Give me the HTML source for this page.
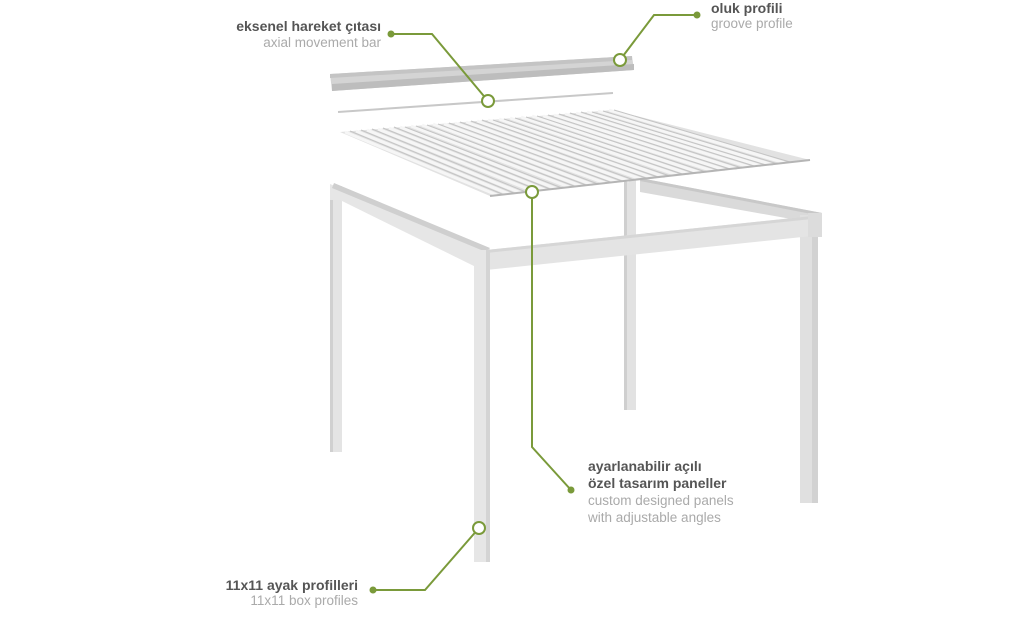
<!DOCTYPE html>
<html><head><meta charset="utf-8"><style>
html,body{margin:0;padding:0;background:#fff;}
svg{display:block;}
.b{font-family:"Liberation Sans",sans-serif;font-weight:bold;font-size:14px;fill:#555;}
.l{font-family:"Liberation Sans",sans-serif;font-size:13.5px;fill:#aaa;}
</style></head><body>
<svg width="1024" height="640" viewBox="0 0 1024 640" xmlns="http://www.w3.org/2000/svg">
<!-- back right leg -->
<rect x="624" y="180" width="12" height="230" fill="#e2e2e2"/>
<rect x="624" y="180" width="3" height="230" fill="#cfcfcf"/>
<!-- right beam -->
<polygon points="640,178 822,213 808,222 640,192" fill="#dadada"/>
<polygon points="640,178 822,213 822,216 640,181" fill="#c8c8c8"/>
<!-- left back leg -->
<rect x="330" y="186" width="12" height="266" fill="#e4e4e4"/>
<rect x="330" y="186" width="3" height="266" fill="#d0d0d0"/>
<!-- left beam -->
<polygon points="330,184 490,249 478,268 340,200 330,200" fill="#e6e6e6"/>
<polygon points="334,183 490,248 486,252 332,188" fill="#cfcfcf"/>
<!-- right leg -->
<rect x="800" y="215" width="18" height="288" fill="#e0e0e0"/>
<rect x="812" y="215" width="6" height="288" fill="#d2d2d2"/>
<!-- front beam -->
<polygon points="486,250 812,216 812,236 486,270" fill="#e4e4e4"/>
<polygon points="486,250 812,216 812,219 486,253" fill="#d6d6d6"/>
<rect x="808" y="213" width="14" height="24" fill="#dcdcdc"/>
<!-- front left leg -->
<rect x="474" y="250" width="16" height="312" fill="#e6e6e6"/>
<rect x="486" y="250" width="4" height="312" fill="#d4d4d4"/>
<!-- panels -->
<polygon points="340,132 613,110 810,160 490,196" fill="#e2e2e2"/>
<g stroke="#f6f6f6" stroke-width="3">
<line x1="345" y1="132" x2="497" y2="195"/><line x1="356" y1="131" x2="509" y2="194"/><line x1="367" y1="130" x2="521" y2="193"/><line x1="378" y1="129" x2="533" y2="191"/><line x1="389" y1="128" x2="545" y2="190"/><line x1="400" y1="127" x2="557" y2="189"/><line x1="411" y1="126" x2="569" y2="187"/><line x1="422" y1="125" x2="581" y2="186"/><line x1="433" y1="124" x2="593" y2="185"/><line x1="444" y1="124" x2="605" y2="183"/><line x1="455" y1="123" x2="617" y2="182"/><line x1="466" y1="122" x2="629" y2="181"/><line x1="477" y1="121" x2="641" y2="179"/><line x1="488" y1="120" x2="653" y2="178"/><line x1="499" y1="119" x2="665" y2="177"/><line x1="510" y1="118" x2="677" y2="175"/><line x1="521" y1="117" x2="689" y2="174"/><line x1="532" y1="116" x2="701" y2="173"/><line x1="543" y1="116" x2="713" y2="171"/><line x1="554" y1="115" x2="725" y2="170"/><line x1="565" y1="114" x2="737" y2="169"/><line x1="576" y1="113" x2="749" y2="167"/><line x1="587" y1="112" x2="761" y2="166"/><line x1="598" y1="111" x2="773" y2="165"/><line x1="609" y1="110" x2="785" y2="163"/>
</g>
<g stroke="#c4c4c4" stroke-width="1">
<line x1="350" y1="131" x2="502" y2="194"/><line x1="361" y1="130" x2="514" y2="193"/><line x1="372" y1="129" x2="526" y2="192"/><line x1="383" y1="128" x2="538" y2="190"/><line x1="394" y1="127" x2="550" y2="189"/><line x1="405" y1="127" x2="562" y2="188"/><line x1="416" y1="126" x2="574" y2="186"/><line x1="427" y1="125" x2="586" y2="185"/><line x1="438" y1="124" x2="598" y2="184"/><line x1="449" y1="123" x2="610" y2="182"/><line x1="460" y1="122" x2="622" y2="181"/><line x1="471" y1="121" x2="634" y2="180"/><line x1="482" y1="120" x2="646" y2="178"/><line x1="493" y1="120" x2="658" y2="177"/><line x1="504" y1="119" x2="670" y2="176"/><line x1="515" y1="118" x2="682" y2="174"/><line x1="526" y1="117" x2="694" y2="173"/><line x1="537" y1="116" x2="706" y2="172"/><line x1="548" y1="115" x2="718" y2="170"/><line x1="559" y1="114" x2="730" y2="169"/><line x1="570" y1="113" x2="742" y2="168"/><line x1="581" y1="112" x2="754" y2="166"/><line x1="592" y1="112" x2="766" y2="165"/><line x1="603" y1="111" x2="778" y2="164"/><line x1="614" y1="110" x2="790" y2="162"/>
</g>
<polyline points="490,196 810,160" stroke="#b5b5b5" stroke-width="2" fill="none"/>
<!-- groove profile -->
<polygon points="330,74 632,56 634,70 332,91" fill="#d4d4d4"/>
<polygon points="330,74 632,56 632,60 330,78" fill="#c4c4c4"/>
<polygon points="332,84 634,64 634,70 332,91" fill="#bdbdbd"/>
<!-- axial bar -->
<line x1="338" y1="112" x2="613" y2="93" stroke="#c8c8c8" stroke-width="2"/>
<!-- connectors -->
<g stroke="#7a9a3a" stroke-width="2" fill="none">
<polyline points="391,34 432,34 488,101"/>
<polyline points="697,15 654,15 620,60"/>
<polyline points="532,190 532,447 571,490"/>
<polyline points="479,528 425,590 373,590"/>
</g>
<g fill="#7a9a3a">
<circle cx="391" cy="34" r="3.5"/><circle cx="697" cy="15" r="3.5"/><circle cx="571" cy="490" r="3.5"/><circle cx="373" cy="590" r="3.5"/>
</g>
<g fill="#fff" stroke="#7a9a3a" stroke-width="2">
<circle cx="488" cy="101" r="6"/><circle cx="620" cy="60" r="6"/><circle cx="532" cy="192" r="6"/><circle cx="479" cy="528" r="6"/>
</g>
<!-- labels -->
<text class="b" x="381" y="31" text-anchor="end">eksenel hareket çıtası</text>
<text class="l" x="381" y="47" text-anchor="end">axial movement bar</text>
<text class="b" x="711" y="13">oluk profili</text>
<text class="l" x="711" y="28">groove profile</text>
<text class="b" x="588" y="471">ayarlanabilir açılı</text>
<text class="b" x="588" y="488">özel tasarım paneller</text>
<text class="l" x="588" y="505">custom designed panels</text>
<text class="l" x="588" y="522">with adjustable angles</text>
<text class="b" x="358" y="590" text-anchor="end">11x11 ayak profilleri</text>
<text class="l" x="358" y="605" text-anchor="end">11x11 box profiles</text>
</svg>
</body></html>
